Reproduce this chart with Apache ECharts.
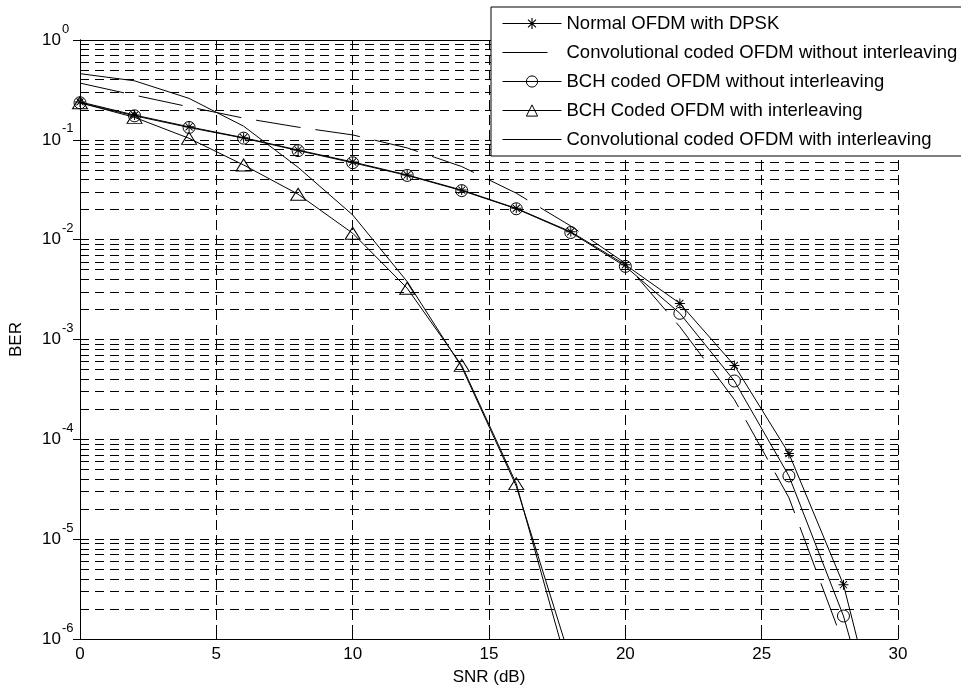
<!DOCTYPE html>
<html>
<head>
<meta charset="utf-8">
<script src="https://cdn.jsdelivr.net/npm/echarts@6/dist/echarts.min.js"></script>
<style>
  html, body { margin: 0; padding: 0; background: #fff; }
  #chart { width: 961px; height: 691px; }
</style>
</head>
<body>
<div id="chart"></div>
<script>
// SNR points (dB)
var snr = [0, 2, 4, 6, 8, 10, 12, 14, 16, 18, 20, 22, 24, 26, 28, 30];
var snrShort = [0, 2, 4, 6, 8, 10, 12, 14, 16, 18];

// BER values
var normalDpsk = [0.24, 0.177, 0.135, 0.105, 0.079, 0.060, 0.0445, 0.0314, 0.0206, 0.0120, 0.0056, 0.0023, 5.5e-4, 7.2e-5, 3.5e-6, 2.4e-8];
var convNoInt = [0.37, 0.28, 0.214, 0.165, 0.134, 0.112, 0.083, 0.054, 0.0292, 0.0137, 0.0058, 0.00134, 2.5e-4, 2.6e-5, 9e-7, 3e-8];
var bchNoInt = [0.235, 0.174, 0.133, 0.104, 0.078, 0.059, 0.044, 0.031, 0.0204, 0.0118, 0.0054, 0.00183, 3.84e-4, 4.3e-5, 1.7e-6, 2e-8];
var bchInt = [0.235, 0.168, 0.1035, 0.056, 0.0285, 0.0116, 0.00326, 5.5e-4, 3.6e-5, 4e-7];
var convInt = [0.46, 0.39, 0.26, 0.137, 0.053, 0.0177, 0.0038, 5.3e-4, 3.4e-5, 6e-7];

var names = [
  'Normal OFDM with DPSK',
  'Convolutional coded OFDM without interleaving',
  'BCH coded OFDM without interleaving',
  'BCH Coded OFDM with interleaving',
  'Convolutional coded OFDM with interleaving'
];

// axis ticks
var decades = [-6, -5, -4, -3, -2, -1];
var minorSteps = [2, 3, 4, 5, 6, 7, 8, 9];

var font = "'Liberation Sans', Arial, Helvetica, sans-serif";
var star = 'path://M9 0h2v20h-2z M0 9h20v2h-20z M2.2 3.6 L3.6 2.2 L17.8 16.4 L16.4 17.8 Z M16.4 2.2 L17.8 3.6 L3.6 17.8 L2.2 16.4 Z';

function pairs(xs, ys) {
  return xs.map(function (x, i) { return [x, ys[i]]; });
}

// minor log grid lines (2..9 in each decade)
var minorLines = [];
decades.forEach(function (d) {
  minorSteps.forEach(function (m) {
    minorLines.push({ yAxis: m * Math.pow(10, d) });
  });
});

var chart = echarts.init(document.getElementById('chart'));
chart.setOption({
  animation: false,
  backgroundColor: '#fff',
  textStyle: { fontFamily: font, color: '#000' },
  grid: {
    left: 80, top: 40, width: 818, height: 599,
    containLabel: false, outerBoundsMode: 'none'
  },
  legend: {
    data: [
      { name: names[0] },
      { name: names[1], itemStyle: { opacity: 0 } },
      { name: names[2] },
      { name: names[3] },
      { name: names[4], itemStyle: { opacity: 0 } }
    ],
    orient: 'vertical',
    left: 491, top: 7,
    z: 20,
    padding: [7, 40, 7, 11],
    itemWidth: 59, itemHeight: 14, itemGap: 10,
    lineStyle: { width: 1 },
    itemStyle: { borderWidth: 1 },
    backgroundColor: '#fff',
    borderColor: '#000', borderWidth: 1, borderRadius: 0,
    textStyle: { fontFamily: font, fontSize: 18.5, color: '#000' }
  },
  xAxis: [{
    type: 'value', min: 0, max: 30, interval: 5,
    name: 'SNR (dB)', nameLocation: 'middle', nameGap: 30,
    nameTextStyle: { fontFamily: font, fontSize: 17, color: '#000' },
    axisLine: { show: true, lineStyle: { color: '#000', width: 1 } },
    axisTick: { show: true, inside: true, length: 7, lineStyle: { color: '#000' } },
    axisLabel: { fontFamily: font, fontSize: 17, color: '#000', margin: 7 },
    splitLine: { show: true, lineStyle: { color: '#000', type: [10, 5], width: 1 } }
  }, {
    type: 'value', min: 0, max: 30, interval: 5, position: 'top',
    axisLine: { show: true, lineStyle: { color: '#000', width: 1 } },
    axisTick: { show: true, inside: true, length: 7, lineStyle: { color: '#000' } },
    axisLabel: { show: false },
    splitLine: { show: false }
  }],
  yAxis: [{
    type: 'log', logBase: 10, min: 1e-6, max: 1, splitNumber: 6,
    name: 'BER', nameLocation: 'middle', nameGap: 55, nameRotate: 90,
    nameTextStyle: { fontFamily: font, fontSize: 17, color: '#000' },
    axisLine: { show: true, lineStyle: { color: '#000', width: 1 } },
    axisTick: { show: true, inside: true, length: 7, lineStyle: { color: '#000' } },
    axisLabel: {
      align: 'left', margin: 38,
      formatter: function (v) {
        var e = Math.round(Math.log(v) / Math.LN10);
        return '{b|10}{s|' + e + '}';
      },
      rich: {
        b: { fontFamily: font, fontSize: 17, color: '#000' },
        s: { fontFamily: font, fontSize: 13, color: '#000', verticalAlign: 'top', padding: [0, 0, 22, 1] }
      }
    },
    splitLine: { show: true, lineStyle: { color: '#000', type: [9, 6], width: 1 } }
  }, {
    type: 'log', logBase: 10, min: 1e-6, max: 1, splitNumber: 6, position: 'right',
    axisLine: { show: true, lineStyle: { color: '#000', width: 1 } },
    axisTick: { show: true, inside: true, length: 7, lineStyle: { color: '#000' } },
    axisLabel: { show: false },
    splitLine: { show: false }
  }],
  series: [{
    name: 'minor-grid',
    type: 'line',
    data: [],
    silent: true,
    z: 1,
    markLine: {
      silent: true,
      precision: 12,
      symbol: ['none', 'none'],
      label: { show: false },
      lineStyle: { color: '#000', type: [9, 6], width: 1 },
      animation: false,
      data: minorLines
    }
  }, {
    name: names[0],
    type: 'line',
    data: pairs(snr, normalDpsk),
    symbol: star, symbolSize: 10,
    lineStyle: { color: '#000', width: 1 },
    itemStyle: { color: '#000' },
    clip: true
  }, {
    name: names[1],
    type: 'line',
    data: pairs(snr, convNoInt),
    symbol: 'none', showSymbol: false,
    lineStyle: { color: '#000', width: 1, type: [45, 15] },
    itemStyle: { color: '#000' },
    clip: true
  }, {
    name: names[2],
    type: 'line',
    data: pairs(snr, bchNoInt),
    symbol: 'circle', symbolSize: 12,
    lineStyle: { color: '#000', width: 1 },
    itemStyle: { color: 'transparent', borderColor: '#000', borderWidth: 1 },
    clip: true
  }, {
    name: names[3],
    type: 'line',
    data: pairs(snrShort, bchInt),
    symbol: 'triangle', symbolSize: [15, 12],
    lineStyle: { color: '#000', width: 1 },
    itemStyle: { color: 'transparent', borderColor: '#000', borderWidth: 1 },
    clip: true
  }, {
    name: names[4],
    type: 'line',
    data: pairs(snrShort, convInt),
    symbol: 'none', showSymbol: false,
    lineStyle: { color: '#000', width: 1 },
    itemStyle: { color: '#000' },
    clip: true
  }]
});
</script>
</body>
</html>
